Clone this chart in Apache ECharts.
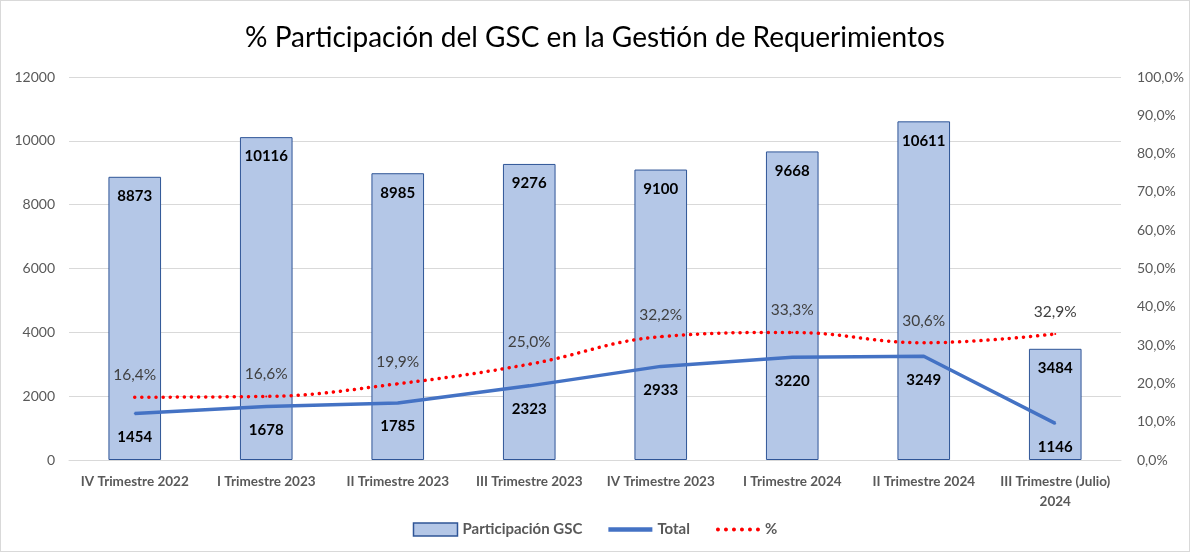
<!DOCTYPE html>
<html>
<head>
<meta charset="utf-8">
<script src="https://cdn.jsdelivr.net/npm/echarts@6/dist/echarts.min.js"></script>
<style>
  html, body { margin: 0; padding: 0; background: #fff; }
  #chart { width: 1188px; height: 550px; border: 1px solid #d9d9d9; }
</style>
</head>
<body>
<div id="chart"></div>
<script>
// Quarters shown on the category axis
const categories = [
  'IV Trimestre 2022', 'I Trimestre 2023', 'II Trimestre 2023', 'III Trimestre 2023',
  'IV Trimestre 2023', 'I Trimestre 2024', 'II Trimestre 2024', 'III Trimestre (Julio)\n2024'
];
// Bars: Participación GSC
const participacion = [8873, 10116, 8985, 9276, 9100, 9668, 10611, 3484];
// Solid line: Total
const total = [1454, 1678, 1785, 2323, 2933, 3220, 3249, 1146];
// Dotted line: % (right axis)
const porcentaje = [16.4, 16.6, 19.9, 25.0, 32.2, 33.3, 30.6, 32.9];

const FONT = 'Lato, "Open Sans", sans-serif';
const pct = v => v.toFixed(1).replace('.', ',') + '%';

const chart = echarts.init(document.getElementById('chart'));
chart.setOption({
  animation: false,
  textStyle: { fontFamily: FONT },
  title: {
    text: '% Participación del GSC en la Gestión de Requerimientos',
    left: 'center',
    top: 18,
    textStyle: { fontFamily: FONT, fontSize: 28, fontWeight: 'normal', color: '#000' }
  },
  legend: {
    bottom: 9,
    left: 'center',
    itemGap: 26,
    textStyle: { fontFamily: FONT, fontSize: 15, fontWeight: 'bold', color: '#595959' },
    data: [
      { name: 'Participación GSC', icon: 'rect', itemStyle: { color: '#B4C7E7', borderColor: '#2F5597', borderWidth: 1.5 } },
      { name: 'Total', icon: 'path://M0,0 L40,0 L40,4 L0,4 Z', itemStyle: { color: '#4472C4' } },
      { name: '%', icon: 'path://M2,0a2,2 0 1,0 0.01,0zM10,0a2,2 0 1,0 0.01,0zM18,0a2,2 0 1,0 0.01,0zM26,0a2,2 0 1,0 0.01,0zM34,0a2,2 0 1,0 0.01,0zM42,0a2,2 0 1,0 0.01,0z', itemStyle: { color: '#FF0000' } }
    ],
    itemWidth: 44,
    itemHeight: 13
  },
  grid: { left: 68, right: 68, top: 76, bottom: 91 },
  xAxis: {
    type: 'category',
    data: categories,
    axisLine: { lineStyle: { color: '#d9d9d9', width: 1 } },
    axisTick: { show: false },
    axisLabel: {
      interval: 0,
      color: '#595959',
      fontFamily: FONT,
      fontSize: 13.5,
      fontWeight: 'bold',
      margin: 12,
      lineHeight: 20
    }
  },
  yAxis: [
    {
      type: 'value',
      min: 0,
      max: 12000,
      interval: 2000,
      axisLine: { show: false },
      axisTick: { show: false },
      splitLine: { lineStyle: { color: '#d9d9d9', width: 1 } },
      axisLabel: { color: '#595959', fontFamily: FONT, fontSize: 14, margin: 14, formatter: v => String(v) }
    },
    {
      type: 'value',
      min: 0,
      max: 100,
      interval: 10,
      axisLine: { show: false },
      axisTick: { show: false },
      splitLine: { show: false },
      axisLabel: { color: '#595959', fontFamily: FONT, fontSize: 14, margin: 16, formatter: v => pct(v) }
    }
  ],
  series: [
    {
      name: 'Participación GSC',
      type: 'bar',
      data: participacion,
      barWidth: '40%',
      itemStyle: { color: '#B4C7E7', borderColor: '#2F5597', borderWidth: 1 },
      label: {
        show: true,
        position: 'insideTop',
        distance: 12,
        color: '#000',
        fontFamily: FONT,
        fontSize: 15,
        fontWeight: 'bold'
      },
      z: 1
    },
    {
      name: 'Total',
      type: 'line',
      data: total,
      symbol: 'circle',
      symbolSize: 2,
      showSymbol: true,
      lineStyle: { color: '#4472C4', width: 3.5 },
      itemStyle: { color: '#4472C4' },
      label: {
        show: true,
        position: 'bottom',
        distance: 15,
        color: '#000',
        fontFamily: FONT,
        fontSize: 15,
        fontWeight: 'bold'
      },
      labelLayout: { hideOverlap: false },
      z: 3
    },
    {
      name: '%',
      type: 'line',
      yAxisIndex: 1,
      data: porcentaje,
      smooth: 0.4,
      symbol: 'circle',
      symbolSize: 2,
      showSymbol: true,
      lineStyle: { color: '#FF0000', width: 3.5, type: [0.1, 7], cap: 'round' },
      itemStyle: { color: '#FF0000' },
      label: {
        show: true,
        position: 'top',
        distance: 13,
        color: '#404040',
        fontFamily: FONT,
        fontSize: 15.5,
        formatter: p => pct(p.value)
      },
      labelLayout: { hideOverlap: false },
      z: 2
    }
  ]
});
</script>
</body>
</html>
